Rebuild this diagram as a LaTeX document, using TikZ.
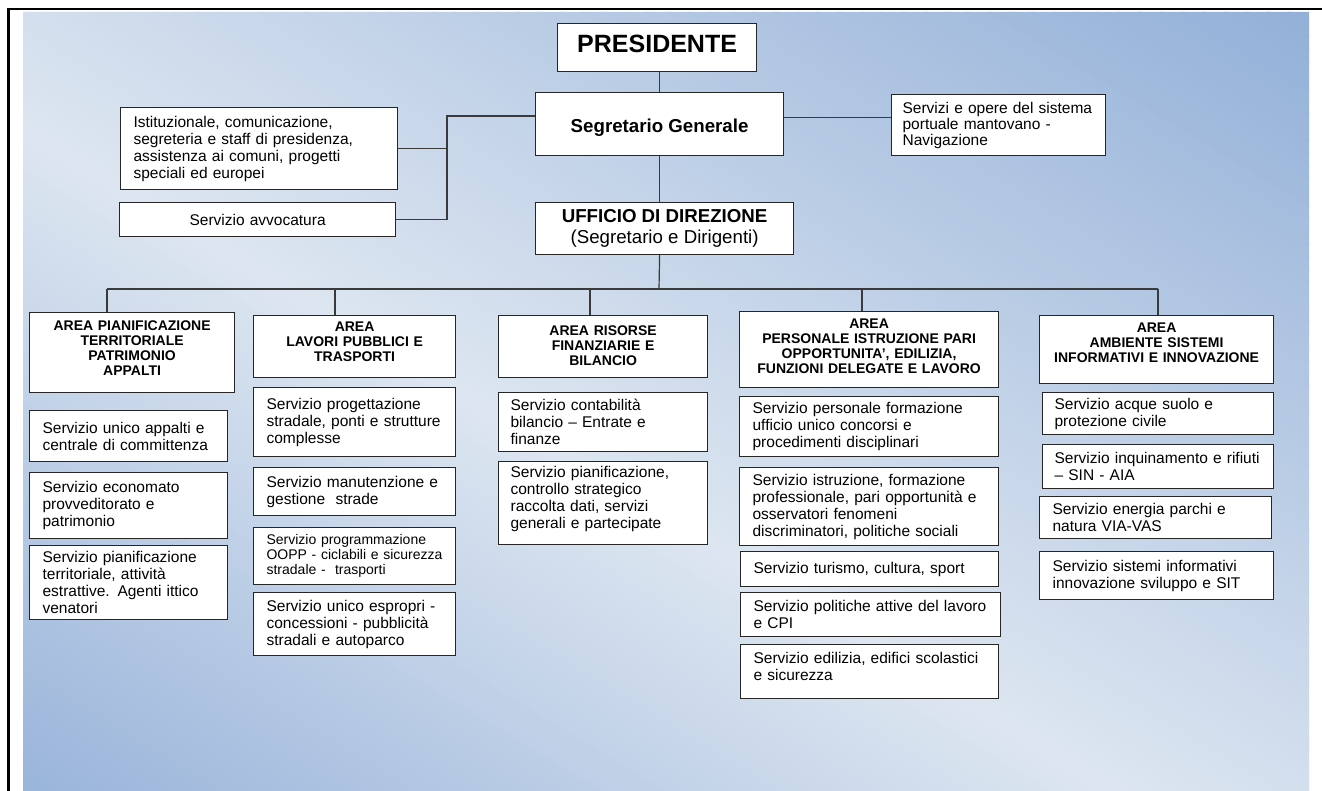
\documentclass[tikz,border=0pt]{standalone}
\usepackage{fontspec}
\setmainfont{Liberation Sans}
\definecolor{bgL}{HTML}{DDE6F1}
\definecolor{bgTR}{HTML}{93B0D8}
\definecolor{bgBL}{HTML}{99B4DA}
\definecolor{lineC}{HTML}{3A3A3A}
\begin{document}
\begin{tikzpicture}[x=1pt,y=-1pt,
  box/.style={draw=black!85, line width=1.2pt, fill=white, inner ysep=0pt, anchor=north west},
  svc/.style={box, inner xsep=13pt, align=left, font=\fontsize{15.5}{17}\selectfont},
  svcs/.style={svc, font=\fontsize{14}{15.2}\selectfont},
  areabox/.style={box, inner xsep=4pt, align=center, font=\bfseries\fontsize{14}{15}\selectfont},
  liftup/.style={execute at end node={\endgraf\kern#1pt}},
  conn/.style={draw=lineC, line width=1.2pt},
]
\useasboundingbox (0,0) rectangle (1322,791);
\fill[white] (0,0) rectangle (1322,791);
% background gradient
\begin{scope}
\clip (23,12) rectangle (1309,791);
\foreach \i in {0,...,119}{
  \pgfmathsetmacro\ta{-1+\i/60}
  \pgfmathsetmacro\tb{\ta+1/60+0.004}
  \pgfmathsetmacro\tm{\ta+1/120}
  \ifdim\tm pt<-0.15pt
    \pgfmathsetmacro\pc{min(100,100*(-0.15-\tm)/0.85)}
    \colorlet{stc}{bgBL!\pc!bgL}
  \else
    \pgfmathsetmacro\pc{min(100,100*(\tm+0.15)/1.15)}
    \colorlet{stc}{bgTR!\pc!bgL}
  \fi
  \fill[stc] ({23+\ta*1286},12) -- ({23+\tb*1286},12) -- ({23+(\tb+1)*1286},791) -- ({23+(\ta+1)*1286},791) -- cycle;
}
\end{scope}
% frame
\draw[line width=2.4pt] (8.3,791) -- (8.3,9.2) -- (1322,9.2);

% top level
\node[box, minimum width=199pt, minimum height=48pt, text height=14pt, text depth=4pt, font=\bfseries\fontsize{25}{28}\selectfont] (pres) at (557,23) {PRESIDENTE};
\node[box, minimum width=248pt, minimum height=63pt, text height=19pt, text depth=2pt, font=\bfseries\fontsize{18.7}{21}\selectfont] (seg) at (535,92) {Segretario Generale};
\node[svc, minimum width=277pt, minimum height=82pt, text width=251pt, font=\fontsize{15.5}{17}\selectfont] (ist) at (120,107) {Istituzionale, comunicazione,\\segreteria e staff di presidenza,\\assistenza ai comuni, progetti\\speciali ed europei};
\node[svc, minimum width=276pt, minimum height=34pt, text width=250pt, align=center] (avv) at (119,202) {Servizio avvocatura};
\node[svc, inner xsep=11pt, minimum width=214pt, minimum height=61pt, text width=192pt, font=\fontsize{15.5}{16}\selectfont] (port) at (891,94) {Servizi e opere del sistema\\portuale mantovano -\\Navigazione};
\node[box, minimum width=258pt, minimum height=52pt, align=center, font=\fontsize{18.7}{21}\selectfont] (uff) at (535,202) {\textbf{UFFICIO DI DIREZIONE}\\(Segretario e Dirigenti)};

% area headers
\node[areabox, liftup=8, minimum width=205pt, minimum height=80pt, text width=197pt] (a1) at (29,312) {AREA PIANIFICAZIONE\\TERRITORIALE\\PATRIMONIO\\APPALTI};
\node[areabox, liftup=9, minimum width=202pt, minimum height=62pt, text width=194pt] (a2) at (253,315) {AREA\\LAVORI PUBBLICI E\\TRASPORTI};
\node[areabox, liftup=2, minimum width=209pt, minimum height=62pt, text width=201pt] (a3) at (498,315) {AREA RISORSE\\FINANZIARIE E\\BILANCIO};
\node[areabox, liftup=7, minimum width=259pt, minimum height=76pt, text width=251pt] (a4) at (739,311) {AREA\\PERSONALE ISTRUZIONE PARI\\OPPORTUNITA', EDILIZIA,\\FUNZIONI DELEGATE E LAVORO};
\node[areabox, liftup=13, minimum width=234pt, minimum height=68pt, text width=226pt] (a5) at (1039,315) {AREA\\AMBIENTE SISTEMI\\INFORMATIVI E INNOVAZIONE};

% column 1
\node[svc, minimum width=198pt, minimum height=51pt, text width=172pt] (c1a) at (29,410) {Servizio unico appalti e\\centrale di committenza};
\node[svc, minimum width=198pt, minimum height=66pt, text width=172pt] (c1b) at (29,472) {Servizio economato\\provveditorato e\\patrimonio};
\node[svc, minimum width=198pt, minimum height=74pt, text width=172pt] (c1c) at (29,545) {Servizio pianificazione\\territoriale, attività\\estrattive. Agenti ittico\\venatori};
% column 2
\node[svc, minimum width=202pt, minimum height=69pt, text width=176pt] (c2a) at (253,387) {Servizio progettazione\\stradale, ponti e strutture\\complesse};
\node[svc, minimum width=202pt, minimum height=48pt, text width=176pt] (c2b) at (253,467) {Servizio manutenzione e\\gestione\ \ strade};
\node[svcs, minimum width=202pt, minimum height=57pt, text width=176pt] (c2c) at (253,527) {Servizio programmazione\\OOPP - ciclabili e sicurezza\\stradale -\ \ trasporti};
\node[svc, minimum width=202pt, minimum height=63pt, text width=176pt] (c2d) at (253,592) {Servizio unico espropri -\\concessioni - pubblicità\\stradali e autoparco};
% column 3
\node[svc, inner xsep=12pt, minimum width=209pt, minimum height=59pt, text width=185pt] (c3a) at (498,392) {Servizio contabilità\\bilancio – Entrate e\\finanze};
\node[svc, inner xsep=12pt, liftup=8, minimum width=209pt, minimum height=83pt, text width=185pt] (c3b) at (498,461) {Servizio pianificazione,\\controllo strategico\\raccolta dati, servizi\\generali e partecipate};
% column 4
\node[svc, minimum width=259pt, minimum height=60pt, text width=233pt] (c4a) at (739,396) {Servizio personale formazione\\ufficio unico concorsi e\\procedimenti disciplinari};
\node[svc, minimum width=259pt, minimum height=78pt, text width=233pt] (c4b) at (739,467) {Servizio istruzione, formazione\\professionale, pari opportunità e\\osservatori fenomeni\\discriminatori, politiche sociali};
\node[svc, minimum width=258pt, minimum height=35pt, text width=232pt] (c4c) at (740,551) {Servizio turismo, cultura, sport};
\node[svc, minimum width=258pt, minimum height=44pt, text width=234pt] (c4d) at (740,592) {Servizio politiche attive del lavoro\\e CPI};
\node[svc, liftup=10, minimum width=258pt, minimum height=54pt, text width=232pt] (c4e) at (740,644) {Servizio edilizia, edifici scolastici\\e sicurezza};
% column 5
\node[svc, inner xsep=12pt, minimum width=231pt, minimum height=42pt, text width=207pt] (c5a) at (1042,392) {Servizio acque suolo e\\protezione civile};
\node[svc, inner xsep=12pt, minimum width=231pt, minimum height=44pt, text width=207pt] (c5b) at (1042,444) {Servizio inquinamento e rifiuti\\– SIN - AIA};
\node[svc, minimum width=232pt, minimum height=42pt, text width=206pt] (c5c) at (1039,496) {Servizio energia parchi e\\natura VIA-VAS};
\node[svc, minimum width=234pt, minimum height=48pt, text width=208pt] (c5d) at (1039,551) {Servizio sistemi informativi\\innovazione sviluppo e SIT};

% connectors
\draw[conn] (pres.south -| seg.north) -- (seg.north);
\draw[conn] (seg.south) -- (seg.south |- uff.north);
\coordinate (jl) at (447,116);
\draw[conn] (seg.west |- jl) -- (jl) -- (jl |- avv.east) -- (avv.east);
\draw[conn] (ist.east) -- (ist.east -| jl);
\draw[conn] ([yshift=6.5pt]seg.east) -- ([yshift=6.5pt]seg.east -| port.west);
\coordinate (bus) at (659,289);
\draw[conn] (seg.south |- uff.south) -- (bus);
\coordinate (d1) at (107,289);
\coordinate (d2) at (335,289);
\coordinate (d3) at (590,289);
\coordinate (d4) at (862,289);
\coordinate (d5) at (1158,289);
\draw[conn] (d1) -- (d5);
\draw[conn] (d1) -- (d1 |- a1.north);
\draw[conn] (d2) -- (d2 |- a2.north);
\draw[conn] (d3) -- (d3 |- a3.north);
\draw[conn] (d4) -- (d4 |- a4.north);
\draw[conn] (d5) -- (d5 |- a5.north);
\end{tikzpicture}
\end{document}
